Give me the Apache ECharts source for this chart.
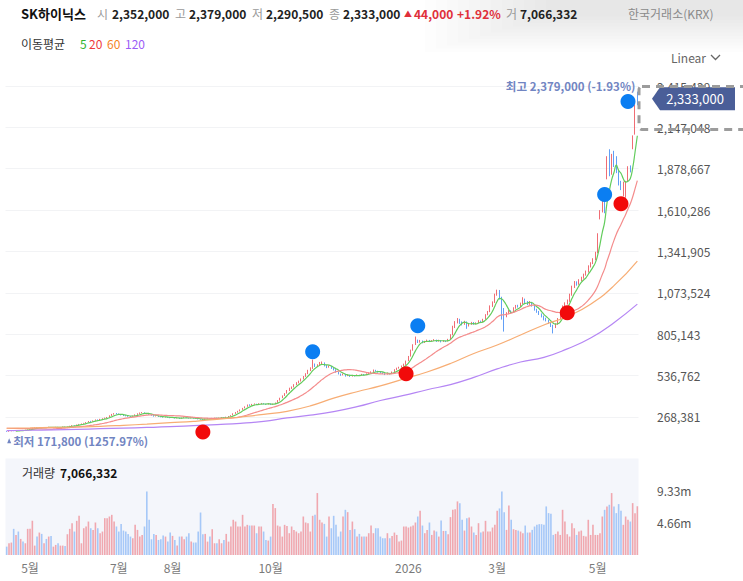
<!DOCTYPE html>
<html><head><meta charset="utf-8">
<script src="https://cdn.jsdelivr.net/npm/echarts@6/dist/echarts.min.js"></script>
<style>html,body{margin:0;padding:0;background:#fff}#c{width:743px;height:581px}</style>
</head><body><div id="c"></div><script>
const FONT = '"Noto Sans CJK KR", "Noto Sans", sans-serif';
const stockName = 'SK하이닉스';
const exchangeName = '한국거래소(KRX)';
const startDate = '2025-04-17';
const holidays = ['2025-05-01','2025-05-05','2025-05-06','2025-06-03','2025-06-06','2025-08-15','2025-10-03','2025-10-06','2025-10-07','2025-10-08','2025-10-09','2025-12-25','2025-12-31','2026-01-01','2026-02-16','2026-02-17','2026-02-18','2026-03-02','2026-05-01','2026-05-05','2026-05-25'];

const opens = [
175000,173000,176000,179000,177000,181000,179000,183000,181000,184000,
187000,191000,196000,200000,197000,200000,198000,202000,200000,202000,
199000,201000,203000,200000,202000,205000,203000,206000,210000,214000,
213000,218000,221000,226000,229000,234000,241000,239000,245000,251000,
248000,254000,258000,262000,268000,277000,286000,291000,288000,284000,
280000,276000,274000,272000,271000,276000,284000,290000,295000,296000,
292000,288000,284000,278000,272000,274000,270000,268000,266000,268000,
265000,262000,264000,260000,262000,258000,262000,265000,263000,260000,
262000,258000,257000,254000,252000,250000,256000,258000,255000,260000,
262000,258000,262000,265000,263000,268000,272000,279000,290000,298000,
306000,316000,326000,336000,347000,344000,350000,352000,348000,354000,
356000,352000,350000,355000,348000,352000,362000,376000,392000,406000,
422000,440000,456000,463000,478000,490000,502000,516000,530000,550000,
572000,586000,610000,598000,606000,616000,620000,600000,590000,598000,
585000,575000,560000,548000,540000,545000,535000,540000,532000,538000,
535000,540000,538000,545000,540000,548000,555000,560000,572000,565000,
560000,555000,550000,545000,552000,548000,560000,575000,585000,590000,
598000,610000,632000,662000,702000,738000,762000,755000,760000,752000,
758000,765000,760000,762000,768000,760000,765000,758000,762000,760000,
772000,802000,852000,882000,900000,880000,870000,885000,860000,870000,
880000,872000,878000,890000,885000,902000,932000,952000,988000,1012000,
1062000,1088000,1040000,965000,920000,940000,955000,948000,975000,990000,
985000,1005000,1030000,1015000,1000000,1012000,990000,965000,950000,935000,
920000,900000,895000,880000,860000,850000,870000,905000,940000,985000,
1005000,1020000,1060000,1110000,1140000,1130000,1155000,1170000,1190000,1210000,
1245000,1265000,1290000,1335000,1560000,1600000,1650000,1820000,1990000,1850000,
1985000,1940000,1850000,1790000,1720000,1700000,1800000,1890000,2010000,2110000,2352000];

const closes = [
173000,176000,178000,177000,180000,179000,182000,181000,184000,186000,
190000,196000,199000,197000,200000,198000,201000,200000,202000,199000,
201000,203000,200000,202000,204000,203000,206000,210000,214000,212000,
218000,221000,225000,229000,234000,240000,238000,245000,250000,248000,
254000,258000,262000,266000,276000,285000,290000,288000,284000,280000,
276000,274000,272000,271000,275000,283000,290000,294000,296000,292000,
288000,284000,278000,272000,274000,270000,268000,266000,268000,265000,
262000,264000,260000,262000,258000,262000,265000,263000,260000,262000,
258000,257000,254000,252000,250000,256000,258000,255000,260000,262000,
258000,262000,265000,263000,268000,272000,278000,290000,298000,306000,
315000,325000,335000,346000,344000,350000,352000,348000,354000,356000,
352000,350000,355000,348000,352000,360000,375000,390000,405000,420000,
440000,455000,462000,478000,490000,500000,515000,530000,548000,570000,
585000,610000,598000,605000,615000,620000,600000,590000,598000,585000,
575000,560000,548000,540000,545000,535000,540000,532000,538000,535000,
540000,538000,545000,540000,548000,555000,560000,572000,565000,560000,
555000,550000,545000,552000,548000,560000,575000,585000,590000,598000,
610000,630000,660000,700000,735000,760000,755000,760000,752000,758000,
765000,760000,762000,768000,760000,765000,758000,762000,760000,770000,
800000,850000,880000,900000,880000,870000,885000,860000,870000,880000,
872000,878000,890000,885000,900000,930000,950000,985000,1010000,1060000,
1090000,1040000,970000,920000,940000,955000,948000,975000,990000,985000,
1005000,1030000,1015000,1000000,1012000,990000,965000,950000,935000,920000,
900000,895000,880000,860000,850000,870000,905000,940000,985000,1005000,
1020000,1060000,1110000,1140000,1130000,1155000,1170000,1190000,1210000,1245000,
1265000,1290000,1330000,1450000,1600000,1660000,1620000,1950000,1840000,1960000,
1900000,1860000,1780000,1745000,1785000,1790000,1890000,1865000,2085000,2289000,2333000];

const highs = [
177000,177000,179000,180000,181000,182000,183000,184000,185000,187000,
191000,198000,201000,201000,201000,202000,203000,203000,204000,203000,
202000,204000,204000,203000,206000,206000,207000,211000,215000,215000,
219000,223000,226000,230000,235000,242000,243000,246000,252000,252000,
256000,260000,264000,268000,279000,288000,293000,294000,291000,286000,
282000,279000,276000,274000,277000,285000,292000,297000,300000,298000,
294000,290000,285000,280000,277000,275000,272000,270000,270000,269000,
266000,266000,265000,264000,263000,264000,267000,266000,264000,264000,
263000,260000,258000,256000,254000,258000,260000,259000,262000,264000,
263000,264000,267000,266000,270000,274000,280000,292000,300000,308000,
317000,327000,337000,349000,350000,353000,356000,354000,357000,359000,
358000,354000,358000,356000,354000,362000,378000,393000,408000,423000,
443000,458000,466000,481000,494000,504000,518000,534000,552000,574000,
590000,640000,615000,610000,625000,628000,622000,605000,602000,600000,
588000,578000,563000,550000,550000,548000,544000,542000,541000,540000,
544000,542000,548000,547000,551000,558000,564000,576000,574000,568000,
562000,558000,552000,556000,554000,563000,578000,588000,594000,602000,
614000,634000,664000,705000,740000,790000,770000,768000,764000,762000,
770000,768000,767000,773000,770000,769000,767000,766000,764000,775000,
805000,860000,890000,910000,905000,888000,892000,888000,876000,885000,
884000,882000,896000,893000,905000,935000,956000,992000,1018000,1068000,
1094000,1092000,1048000,975000,948000,962000,960000,980000,995000,996000,
1010000,1045000,1036000,1020000,1020000,1015000,994000,970000,956000,940000,
926000,912000,900000,884000,866000,876000,910000,945000,992000,1012000,
1030000,1068000,1120000,1150000,1148000,1162000,1178000,1198000,1218000,1252000,
1272000,1298000,1340000,1460000,1610000,1670000,1665000,1960000,2005000,1975000,
1995000,1960000,1870000,1800000,1795000,1800000,1895000,1900000,2095000,2295000,2379000];

const lows = [
171800,172000,175000,176000,176000,178000,178000,180000,180000,183000,
186000,190000,195000,196000,196000,197000,197000,199000,199000,198000,
198000,200000,199000,199000,201000,202000,202000,205000,209000,210000,
212000,217000,220000,224000,228000,233000,236000,237000,244000,246000,
247000,252000,256000,260000,266000,275000,283000,285000,282000,278000,
274000,272000,269000,268000,270000,275000,282000,288000,292000,290000,
286000,282000,276000,270000,271000,268000,266000,264000,265000,263000,
260000,261000,258000,259000,256000,257000,261000,261000,258000,259000,
257000,255000,252000,250000,245000,249000,254000,253000,254000,258000,
256000,257000,261000,261000,262000,267000,271000,278000,288000,296000,
304000,314000,324000,334000,340000,342000,348000,345000,347000,352000,
350000,347000,349000,346000,347000,351000,360000,374000,390000,404000,
420000,436000,450000,460000,475000,486000,498000,512000,528000,546000,
566000,580000,592000,594000,600000,610000,596000,585000,588000,580000,
570000,556000,544000,535000,538000,530000,533000,528000,530000,531000,
534000,534000,537000,537000,539000,546000,553000,558000,562000,556000,
551000,546000,540000,543000,544000,547000,558000,573000,582000,588000,
596000,606000,630000,660000,698000,735000,748000,750000,746000,748000,
755000,754000,756000,760000,755000,757000,752000,755000,754000,758000,
770000,798000,845000,875000,872000,862000,866000,840000,855000,866000,
866000,868000,875000,878000,882000,900000,928000,948000,982000,1008000,
1055000,1030000,900000,822000,915000,935000,940000,945000,970000,978000,
982000,1000000,1008000,994000,996000,984000,958000,944000,930000,914000,
895000,888000,872000,852000,810000,845000,866000,900000,935000,978000,
998000,1015000,1055000,1105000,1120000,1126000,1150000,1165000,1185000,1205000,
1238000,1260000,1285000,1330000,1550000,1595000,1590000,1810000,1830000,1840000,
1890000,1850000,1770000,1740000,1700000,1690000,1795000,1855000,2005000,2100000,2290500];

const volumes = [
1210000,1700000,1800000,3790000,2910000,3400000,2330000,1940000,1700000,3790000,
3790000,4950000,1360000,2670000,3250000,3060000,1700000,2330000,2670000,2770000,
1210000,1460000,1700000,1360000,1360000,1310000,3010000,3790000,4610000,3400000,
4950000,5680000,1700000,3880000,4130000,4850000,3880000,3640000,4710000,3880000,
3160000,3400000,5340000,5340000,5580000,5820000,4850000,4130000,3400000,4510000,
3540000,3400000,3060000,2670000,2430000,4370000,3640000,2670000,2910000,4130000,
9220000,5100000,2280000,3060000,2910000,2180000,2280000,2820000,2670000,1940000,
3250000,2770000,2180000,1360000,2670000,2670000,2280000,2670000,3160000,1940000,
1800000,1800000,3400000,6160000,3010000,3060000,1940000,2670000,3740000,1700000,
1700000,2280000,1700000,2180000,3060000,1940000,4130000,5100000,4850000,4130000,
4130000,5820000,4130000,4370000,4270000,4270000,4270000,3160000,4130000,4130000,
3400000,2180000,2090000,2670000,7380000,6800000,4270000,4130000,2670000,4370000,
4220000,3160000,4130000,3640000,3400000,3160000,3400000,5580000,4710000,4610000,
3400000,5680000,5820000,8980000,5100000,4710000,4510000,2670000,5580000,3880000,
5680000,4370000,2670000,3400000,5580000,6550000,6210000,3640000,4850000,3740000,
2670000,3060000,2670000,2670000,2670000,3160000,4270000,3160000,3880000,3880000,
2670000,2430000,2430000,3160000,2430000,2770000,3250000,2910000,1940000,2090000,
4130000,4130000,3980000,4130000,4270000,4710000,5580000,6410000,4270000,3160000,
3640000,4710000,2910000,3540000,3400000,2670000,5000000,3490000,3490000,3010000,
5490000,6550000,6650000,7770000,7520000,5100000,3540000,5340000,5440000,4130000,
3250000,2910000,4610000,3250000,3400000,4950000,3400000,3400000,3980000,4370000,
6410000,6750000,9220000,6210000,3640000,7180000,5100000,3740000,3640000,3540000,
3400000,3160000,4270000,3250000,3250000,3640000,4130000,4370000,4470000,4470000,
4370000,7040000,6070000,5970000,2910000,3060000,3400000,2910000,6550000,4850000,
3010000,2670000,4610000,3880000,2910000,3400000,3540000,2770000,2670000,5100000,
2910000,4370000,2910000,2910000,3160000,5580000,6550000,7040000,7280000,8980000,
7040000,6070000,7380000,6410000,4370000,5580000,5100000,4850000,7520000,6070000,7066332];

const ma20HeadIdx = [0, 6, 12, 18];
const ma20HeadVal = [195000, 193000, 191000, 189500];
const maSampleIdx = [0,10,20,30,40,50,60,70,80,90,100,110,120,130,140,150,160,170,180,190,200,210,220,230,240,250,260,270];
const ma60Val = [195000,197000,200000,203000,207000,214000,222000,231000,240000,252000,268000,285000,305000,340000,390000,432000,470000,515000,560000,615000,680000,735000,800000,865000,920000,1000000,1120000,1280000];
const ma120Val = [180000,182000,185000,188000,192000,196000,200000,205000,212000,219000,227000,240000,262000,280000,303000,335000,375000,408000,445000,478000,525000,580000,625000,655000,710000,780000,880000,1000000];

// signal markers
const buyIdx = [84, 171, 240, 263];
const buyVal = [171000, 548000, 944000, 1652000];
const sellIdx = [131, 176, 256, 266];
const sellVal = [691000, 860000, 1711000, 2315000];

// axes
const xTickMonths = ['2025-05','2025-07','2025-08','2025-10','2026-01','2026-03','2026-05'];
const xTickText = ['5월','7월','8월','10월','2026','3월','5월'];
const priceStep = 268381;
const priceMax = 2415429;
const volStep = 4663000;
const volMax = 13989000;

const UP = '#ec4751', DOWN = '#3a87f4';
const MA_COLORS = ['#62cc5c', '#f48c8c', '#f7ad74', '#b586f4'];

function tradingDates(start, n, hol) {
  const out = []; const d = new Date(start + 'T00:00:00Z');
  while (out.length < n) {
    const s = d.toISOString().slice(0, 10); const wd = d.getUTCDay();
    if (wd !== 0 && wd !== 6 && hol.indexOf(s) < 0) out.push(s);
    d.setUTCDate(d.getUTCDate() + 1);
  }
  return out;
}
const N = closes.length;
const dates = tradingDates(startDate, N, holidays);
const xTickIdx = xTickMonths.map(m => dates.findIndex(d => d.slice(0, 7) === m));

const candleData = opens.map((o, i) => [o, closes[i], lows[i], highs[i]]);
function movingAvg(p) {
  return closes.map((_, i) => {
    if (i < p - 1) return null;
    let s = 0; for (let k = i - p + 1; k <= i; k++) s += closes[k];
    return Math.round(s / p);
  });
}
function sparse(idx, val) { const a = new Array(N).fill(null); idx.forEach((k, t) => { a[k] = val[t]; }); return a; }
const ma5 = movingAvg(5);
const ma20 = movingAvg(20);
ma20HeadIdx.forEach((k, t) => { ma20[k] = ma20HeadVal[t]; });
const ma60 = sparse(maSampleIdx, ma60Val);
const ma120 = sparse(maSampleIdx, ma120Val);

const volData = volumes.map((v, i) => {
  const prev = i === 0 ? opens[0] : closes[i - 1];
  const up = closes[i] >= prev;
  return { value: v, itemStyle: { color: up ? 'rgba(236,71,81,0.45)' : 'rgba(58,135,244,0.42)' } };
});

const fmt = v => v.toLocaleString('en-US');

function maLine(name, data, color) {
  return { name, type: 'line', xAxisIndex: 0, yAxisIndex: 0, data, smooth: true, connectNulls: true,
    symbol: 'none', lineStyle: { width: 1.2, color }, z: 3, silent: true };
}

const chart = echarts.init(document.getElementById('c'), null, { renderer: 'svg', width: 743, height: 581 });

const option = {
  animation: false,
  textStyle: { fontFamily: FONT },
  grid: [
    { left: 5.5, right: 104.5, top: 86, height: 372.3 },
    { left: 5.5, right: 104.5, top: 458.5, height: 96.5, show: true, backgroundColor: '#f4f6fb', borderWidth: 0 }
  ],
  xAxis: [
    { type: 'category', gridIndex: 0, data: dates, boundaryGap: true, show: false },
    { type: 'category', gridIndex: 1, data: dates, boundaryGap: true,
      axisLine: { show: false }, axisTick: { show: false }, splitLine: { show: false },
      axisLabel: { interval: (i) => xTickIdx.indexOf(i) >= 0,
        formatter: (v, i) => { const k = xTickIdx.indexOf(i); return k >= 0 ? xTickText[k] : ''; },
        color: '#7a7a7a', fontSize: 12, margin: 6, fontFamily: FONT } }
  ],
  yAxis: [
    { type: 'value', gridIndex: 0, position: 'right', min: 0, max: priceMax, interval: priceStep,
      axisLine: { show: false }, axisTick: { show: false },
      splitLine: { show: true, showMinLine: false, lineStyle: { color: '#f2f3f5', width: 1 } },
      axisLabel: { margin: 18.5, color: '#555', fontSize: 12, fontFamily: FONT,
        formatter: v => v === 0 ? '' : fmt(v) } },
    { type: 'value', gridIndex: 1, position: 'right', min: 0, max: volMax, interval: volStep,
      axisLine: { show: false }, axisTick: { show: false }, splitLine: { show: false },
      axisLabel: { margin: 18.5, color: '#555', fontSize: 12, fontFamily: FONT,
        formatter: v => (v === 0 || v >= volMax) ? '' : (v / 1e6).toFixed(2) + 'm' } }
  ],
  series: [
    { name: 'volume', type: 'bar', xAxisIndex: 1, yAxisIndex: 1, data: volData, barWidth: 1.6, silent: true },
    { name: 'price', type: 'candlestick', xAxisIndex: 0, yAxisIndex: 0, data: candleData, barWidth: 1.3,
      itemStyle: { color: UP, color0: DOWN, borderColor: UP, borderColor0: DOWN, borderWidth: 0.8 }, z: 2 },
    maLine('MA5', ma5, MA_COLORS[0]),
    maLine('MA20', ma20, MA_COLORS[1]),
    maLine('MA60', ma60, MA_COLORS[2]),
    maLine('MA120', ma120, MA_COLORS[3]),
    { name: 'buy', type: 'scatter', xAxisIndex: 0, yAxisIndex: 0, symbolSize: 15, z: 6,
      data: buyIdx.map((k, t) => [k, buyVal[t]]), itemStyle: { color: '#f20a0a', opacity: 1 } },
    { name: 'sell', type: 'scatter', xAxisIndex: 0, yAxisIndex: 0, symbolSize: 15, z: 6,
      data: sellIdx.map((k, t) => [k, sellVal[t]]), itemStyle: { color: '#0b7ef2', opacity: 1 } }
  ]
};
chart.setOption(option);

// derived texts
const last = N - 1;
const change = closes[last] - closes[last - 1];
const pct = change / closes[last - 1] * 100;
const hiIdx = highs.indexOf(Math.max.apply(null, highs));
const loIdx = lows.indexOf(Math.min.apply(null, lows));
const pHi = chart.convertToPixel({ xAxisIndex: 0, yAxisIndex: 0 }, [hiIdx, highs[hiIdx]]);
const pLo = chart.convertToPixel({ xAxisIndex: 0, yAxisIndex: 0 }, [loIdx, lows[loIdx]]);
const pLast = chart.convertToPixel({ xAxisIndex: 0, yAxisIndex: 0 }, [last, closes[last]]);
const hiTxt = '최고 ' + fmt(highs[hiIdx]) + ' (' + ((closes[last] / highs[hiIdx] - 1) * 100).toFixed(2) + '%)';
const loTxt = '최저 ' + fmt(lows[loIdx]) + ' (' + ((closes[last] / lows[loIdx] - 1) * 100).toFixed(2) + '%)';

function T(text, x, y, fill, size, weight, align) {
  return { type: 'text', z: 100, silent: true, style: { text, x, y, fill,
    font: (weight || 'normal') + ' ' + (size || 12) + 'px ' + FONT,
    textAlign: align || 'left', textVerticalAlign: 'middle' } };
}
const LBL = '#9a9a9a', VAL = '#222', RED = '#e0303a';
const tagH = 23, tagX0 = 652, tagX1 = 735;
// soft grey shade behind the header's right side, built from stacked translucent layers
const shade = [];
for (let k = 0; k < 12; k++) {
  shade.push({ type: 'rect', z: 0, silent: true,
    shape: { x: 425 + k * 11, y: -10, width: 400, height: 62 - k * 3.2 },
    style: { fill: 'rgba(0,0,0,0.0068)' } });
}
const graphics = shade.concat([
  T(stockName, 21, 13, '#111', 13, 'bold'),
  T('시', 97, 13, LBL, 12), T(fmt(opens[last]), 112, 13, VAL, 12, 'bold'),
  T('고', 175, 13, LBL, 12), T(fmt(highs[last]), 189, 13, VAL, 12, 'bold'),
  T('저', 252, 13, LBL, 12), T(fmt(lows[last]), 266, 13, VAL, 12, 'bold'),
  T('종', 329, 13, LBL, 12), T(fmt(closes[last]), 343, 13, VAL, 12, 'bold'),
  T(change >= 0 ? '▲' : '▼', 404, 13, RED, 8),
  T(fmt(Math.abs(change)), 414, 13, RED, 12, 'bold'),
  T((pct >= 0 ? '+' : '') + pct.toFixed(2) + '%', 457, 13, RED, 12, 'bold'),
  T('거', 506, 13, LBL, 12), T(fmt(volumes[last]), 520, 13, VAL, 12, 'bold'),
  T(exchangeName, 628, 13, '#8a8a8a', 12),
  T('이동평균', 21, 43, '#333', 12),
  T('5', 80, 43, '#2fb52f', 12), T('20', 89, 43, '#ee3b3b', 12),
  T('60', 107, 43, '#f5841f', 12), T('120', 125, 43, '#9b5cf6', 12),
  T('Linear', 671, 57, '#666', 12),
  { type: 'polyline', z: 100, silent: true, shape: { points: [[711, 55], [715.5, 59.5], [720, 55]] },
    style: { stroke: '#666', lineWidth: 1.3, fill: null } },
  T('거래량', 22, 472, '#333', 12),
  T(fmt(volumes[last]), 60, 472, '#111', 12, 'bold'),
  T(hiTxt, pHi[0] - 2, pHi[1] - 6, '#7185c2', 11.5, 'bold', 'right'),
  { type: 'polygon', z: 100, silent: true,
    shape: { points: [[pLo[0] + 0.5, pLo[1] + 11.5], [pLo[0] + 2.5, pLo[1] + 6.5], [pLo[0] + 4.5, pLo[1] + 11.5]] },
    style: { fill: '#7185c2' } },
  T(loTxt, pLo[0] + 6.5, pLo[1] + 9.5, '#7185c2', 11.5, 'bold'),
  { type: 'polygon', z: 101, silent: true,
    shape: { points: [[tagX0, pLast[1]], [tagX0 + 8, pLast[1] - tagH / 2], [tagX1, pLast[1] - tagH / 2],
      [tagX1, pLast[1] + tagH / 2], [tagX0 + 8, pLast[1] + tagH / 2]] },
    style: { fill: '#4a5e98' } },
  Object.assign(T(fmt(closes[last]), 695, pLast[1], '#fff', 13, 'normal', 'center'), { z: 102 }),
  { type: 'rect', z: 103, silent: true, shape: { x: 639, y: 86.5, width: 112, height: 43, r: 3 },
    style: { fill: null, stroke: '#9c9c9c', lineWidth: 3, lineDash: [8, 6] } }
]);
chart.setOption({ graphic: graphics });
</script></body></html>
